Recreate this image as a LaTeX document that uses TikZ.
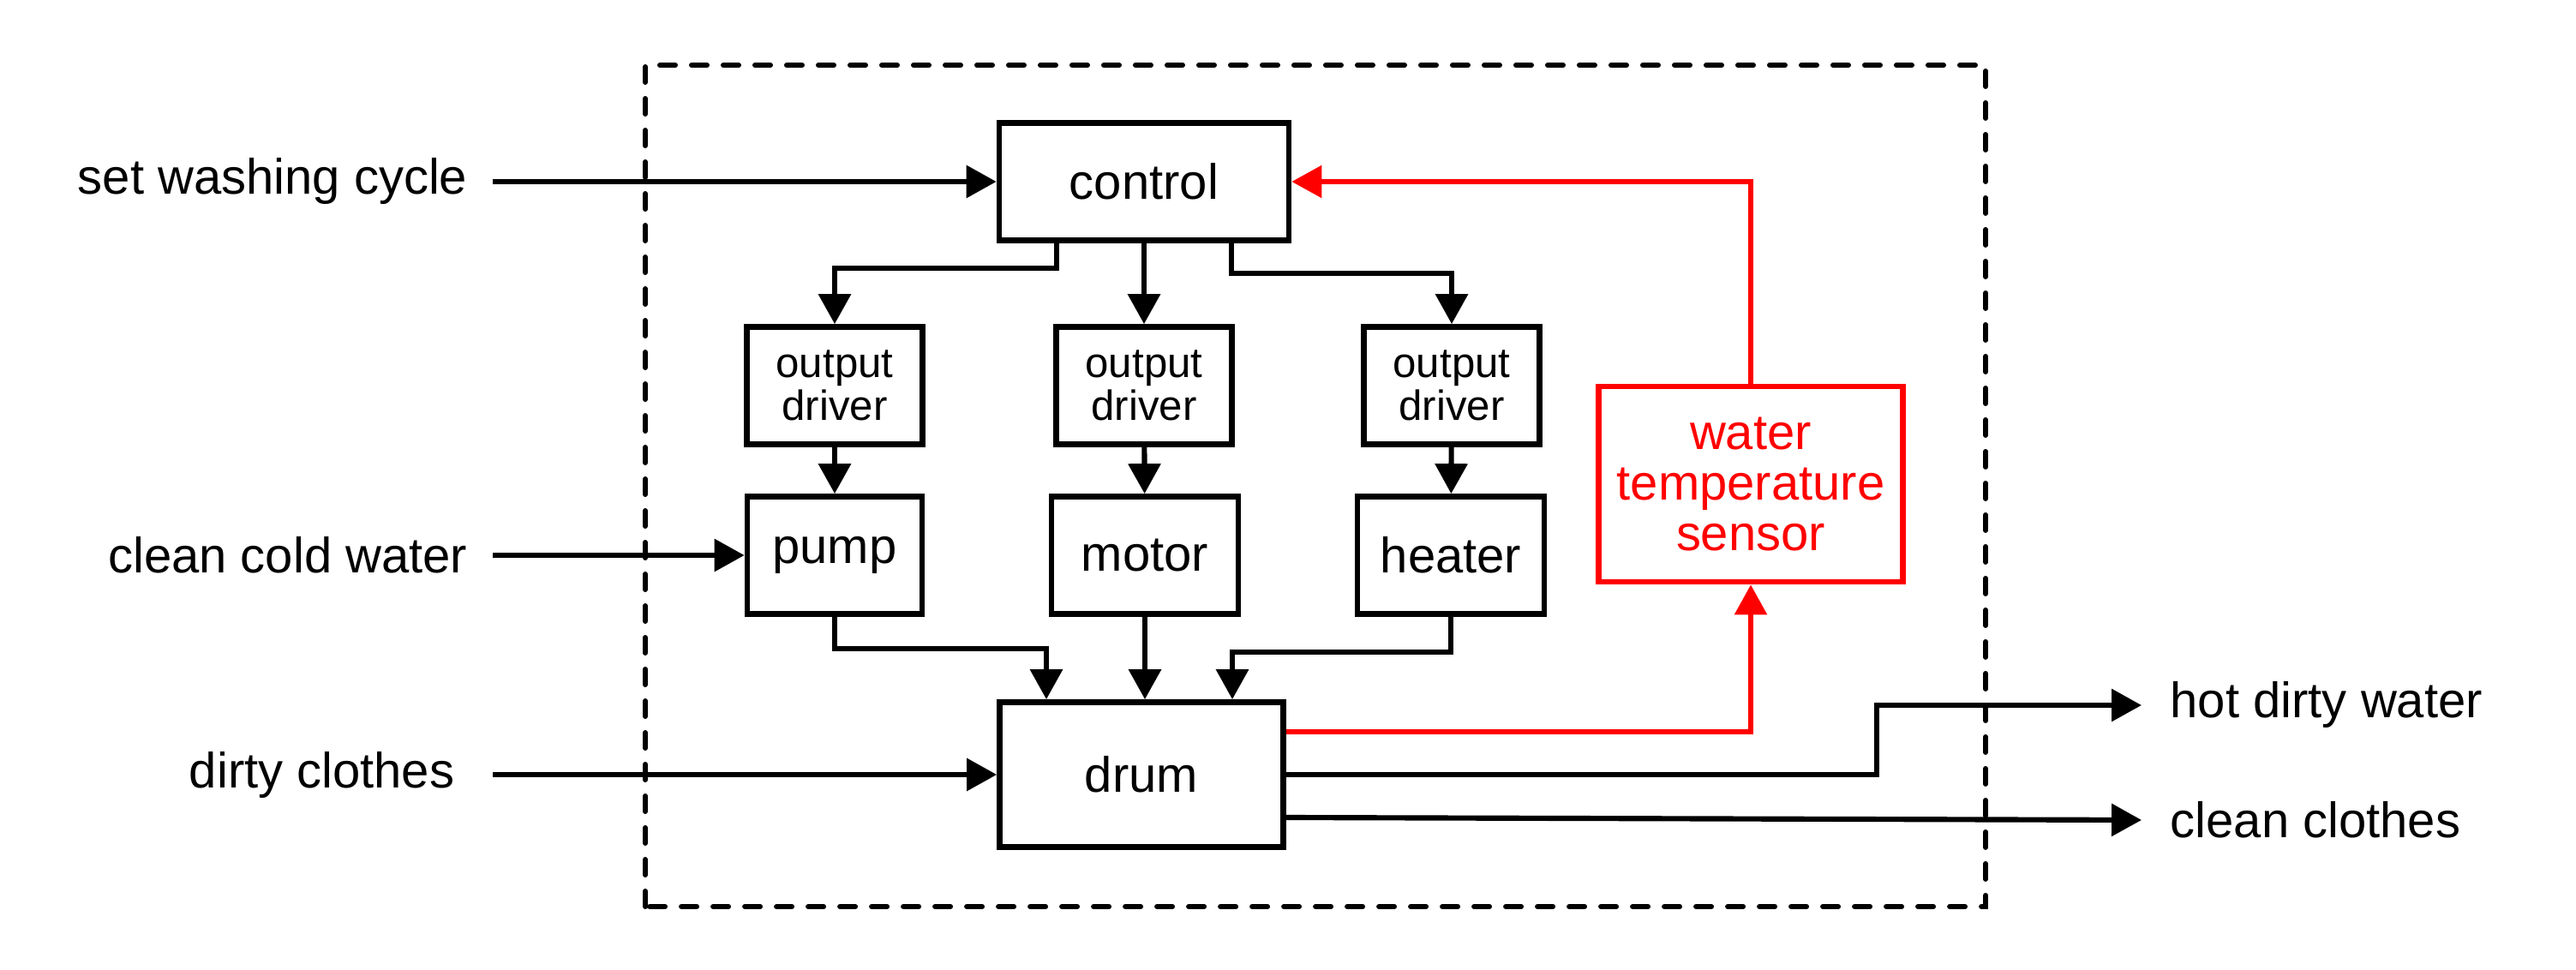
\documentclass[tikz,border=0pt]{standalone}
\usepackage{fontspec}
\setmainfont{Liberation Sans}
\usetikzlibrary{arrows.meta}

\begin{document}
\begin{tikzpicture}[
    box/.style={draw, line width=1.9pt, minimum width=#1, minimum height=1.37cm,
        inner sep=0pt, align=center, font=\fontsize{16.5}{16.8}\selectfont},
    drvbox/.style={box=2.05cm, font=\fontsize{14}{14.2}\selectfont},
    lbl/.style={inner sep=0pt, font=\fontsize{16.5}{19}\selectfont},
    conn/.style={line width=1.75pt, -{Triangle[length=3.5mm,width=3.7mm]}},
    sens/.style={conn, red, line width=1.6pt}
]
    % Same Bounding Box
    \useasboundingbox (0,0) rectangle (30.06,11.31);

    % System boundary
    \draw[line width=1.7pt, line cap=round, dash pattern=on 0.18cm off 0.19cm]
        (7.53,0.73) rectangle (23.17,10.55);

    % Blocks
    \node[box=3.38cm] (control) at (13.35,9.19) {control};
    \node[drvbox] (drvL) at (9.74,6.81) {output\\driver};
    \node[drvbox] (drvM) at (13.35,6.81) {output\\driver};
    \node[drvbox] (drvR) at (16.94,6.81) {output\\driver};
    \node[box=2.04cm] (pump) at (9.74,4.83) {pump};
    \node[box=2.18cm] (motor) at (13.36,4.83) {motor};
    \node[box=2.18cm] (heater) at (16.93,4.83) {heater};
    \node[box=3.55cm, minimum height=2.28cm, red] (sensor) at (20.43,5.66) {water\\temperature\\sensor};
    \node[box=3.31cm, minimum height=1.69cm] (drum) at (13.32,2.27) {drum};

    % Inputs and outputs
    \node[lbl, anchor=east] (setcyc) at (5.46,9.19) {set washing cycle};
    \node[lbl, anchor=east] (cleanwater) at (5.46,4.83) {clean cold water};
    \node[lbl, anchor=east] (dirtyclothes) at (5.31,2.27) {dirty clothes};
    \node[lbl, anchor=west] (hotwater) at (25.32,3.08) {hot dirty water};
    \node[lbl, anchor=west] (cleanclothes) at (25.32,1.74) {clean clothes};

    \draw[conn] ([xshift=0.29cm]setcyc.east) -- (control.west);
    \draw[conn] ([xshift=0.29cm]cleanwater.east) -- (pump.west);
    \draw[conn] ([xshift=0.44cm]dirtyclothes.east) -- (drum.west);

    % Control to the drivers
    \draw[conn] ([xshift=-1.02cm]control.south) -- ++(0,-0.29) -| (drvL.north);
    \draw[conn] (control.south) -- (drvM.north);
    \draw[conn] ([xshift=1.02cm]control.south) -- ++(0,-0.35) -| (drvR.north);
    \draw[conn] (drvL) -- (pump);
    \draw[conn] (drvM) -- (motor);
    \draw[conn] (drvR) -- (heater);

    % Actuators to the drum
    \draw[conn] (pump.south) -- ++(0,-0.37) -| ([xshift=-1.11cm]drum.north);
    \draw[conn] (motor.south) -- (motor.south |- drum.north);
    \draw[conn] (heater.south) -- ++(0,-0.41) -| ([xshift=1.06cm]drum.north);

    % Feedback loop
    \draw[sens] ([yshift=0.5cm]drum.east) -| (sensor.south);
    \draw[sens] (sensor.north) |- (control.east);

    % Outputs
    \draw[conn] (drum.east) -| (21.90,3.08) -- ([xshift=-0.33cm]hotwater.west);
    \draw[conn] ([yshift=-0.5cm]drum.east) -- ([xshift=-0.33cm]cleanclothes.west);
\end{tikzpicture}
\end{document}
